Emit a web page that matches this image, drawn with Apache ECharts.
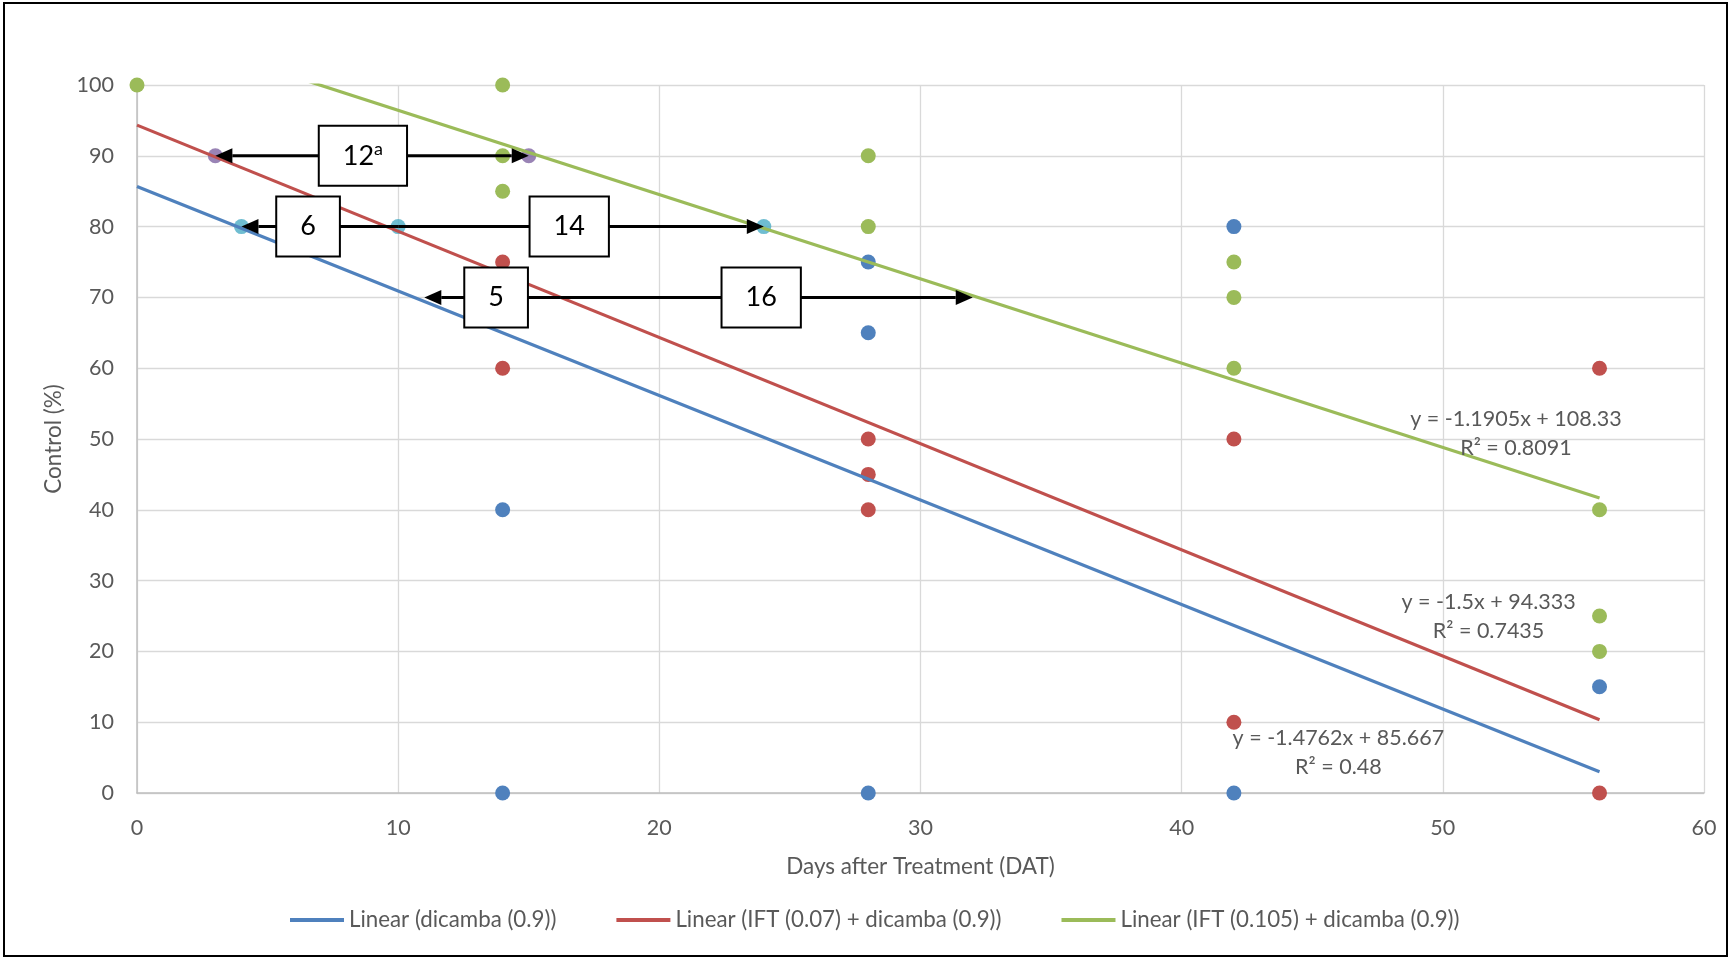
<!DOCTYPE html>
<html><head><meta charset="utf-8">
<script src="https://cdn.jsdelivr.net/npm/echarts@6/dist/echarts.min.js"></script>
<style>html,body{margin:0;padding:0;background:#fff}#c{width:1730px;height:958px}</style>
</head><body><div id="c"></div>
<script>
// ---------- data ----------
const seriesNames = ['dicamba (0.9)', 'IFT (0.07) + dicamba (0.9)', 'IFT (0.105) + dicamba (0.9)'];
const dicambaX = [14, 14, 28, 28, 28, 42, 42, 56];
const dicambaY = [40, 0, 75, 65, 0, 80, 0, 15];
const ift07X = [14, 14, 28, 28, 28, 42, 42, 56, 56];
const ift07Y = [75, 60, 50, 45, 40, 50, 10, 60, 0];
const ift105X = [0, 14, 14, 14, 28, 28, 42, 42, 42, 56, 56, 56];
const ift105Y = [100, 100, 90, 85, 90, 80, 75, 70, 60, 40, 25, 20];
const mark90X = [3, 15];
const mark90Y = [90, 90];
const mark80X = [4, 10, 24];
const mark80Y = [80, 80, 80];
const trendSlope = [-1.4762, -1.5, -1.1905];
const trendIntercept = [85.667, 94.333, 108.33];
const trendR2 = ['0.48', '0.7435', '0.8091'];
const trendXRange = [0, 56];
// arrows: each goes from a start day to the day its head points at, at one control level
const arrowLevel = [90, 90, 80, 80, 70, 70];
const arrowFrom = [9, 9, 10, 10, 16.2, 16.2];
const arrowTo = [3, 15, 4, 24, 11, 32];
// boxed labels (days between lines)
const boxDay = [8.65, 6.55, 16.55, 13.75, 23.9];
const boxLevel = [90, 80, 80, 70, 70];
const boxText = ['12', '6', '14', '5', '16'];
const boxSup = ['a', '', '', '', ''];
const xTicks = [0, 60, 10];
const yTicks = [0, 100, 10];

// ---------- styling ----------
const FONT = 'Lato';
const GREY = '#595959';
const colors = ['#4F81BD', '#C0504D', '#9BBB59'];
const purple = '#8064A2', cyan = '#4BACC6';

const chart = echarts.init(document.getElementById('c'), null, {renderer: 'canvas'});

const zip = (xs, ys) => xs.map((x, i) => [x, ys[i]]);
const pointSets = [zip(dicambaX, dicambaY), zip(ift07X, ift07Y), zip(ift105X, ift105Y)];

const scatterSeries = pointSets.map((d, i) => ({
  type: 'scatter', data: d, symbol: 'circle', symbolSize: 15,
  itemStyle: {color: colors[i], opacity: 1}, z: 2, silent: true
}));
scatterSeries.push({type: 'scatter', data: zip(mark90X, mark90Y), symbolSize: 15, itemStyle: {color: purple}, z: 2});
scatterSeries.push({type: 'scatter', data: zip(mark80X, mark80Y), symbolSize: 15, itemStyle: {color: cyan}, z: 2});

const trendNames = seriesNames.map(n => 'Linear (' + n + ')');
const trendSeries = trendSlope.map((m, i) => ({
  type: 'line', name: trendNames[i], color: colors[i],
  data: trendXRange.map(x => [x, m * x + trendIntercept[i]]),
  showSymbol: false, symbol: 'none', clip: true,
  lineStyle: {color: colors[i], width: 3.2}, z: 3
}));

// equation labels anchored in data space (day, control)
const eqAnchors = [[46.0, 5.65], [51.75, 24.9], [52.8, 50.7]];
const eqSeries = {
  type: 'custom', z: 6, silent: true,
  data: eqAnchors.map((a, i) => [a[0], a[1], i]),
  encode: {x: 0, y: 1},
  renderItem: (params, api) => {
    const i = api.value(2);
    const p = api.coord([api.value(0), api.value(1)]);
    const m = trendSlope[i], b = trendIntercept[i];
    const txt = 'y = ' + m + 'x + ' + b + '\nR² = ' + trendR2[i];
    return {type: 'text', x: p[0], y: p[1], style: {
      text: txt, align: 'center', verticalAlign: 'middle', fill: GREY,
      fontFamily: FONT, fontSize: 21.5, lineHeight: 29
    }};
  }
};

const arrowSeries = {
  type: 'custom', z: 4, silent: true,
  data: arrowLevel.map((y, i) => [arrowFrom[i], y, arrowTo[i]]),
  encode: {x: [0, 2], y: 1},
  renderItem: (params, api) => {
    const y = api.value(1);
    const a = api.coord([api.value(0), y]);
    const b = api.coord([api.value(2), y]);
    const dir = Math.sign(b[0] - a[0]);
    const L = 17, H = 7.5;
    const base = b[0] - dir * L;
    return {type: 'group', children: [
      {type: 'line', shape: {x1: a[0], y1: a[1], x2: base, y2: b[1]}, style: {stroke: '#000', lineWidth: 3}},
      {type: 'polygon', shape: {points: [[b[0], b[1]], [base, b[1] - H], [base, b[1] + H]]}, style: {fill: '#000'}}
    ]};
  }
};

const boxSeries = {
  type: 'custom', z: 5, silent: true,
  data: boxDay.map((x, i) => [x, boxLevel[i], i]),
  encode: {x: 0, y: 1},
  renderItem: (params, api) => {
    const i = api.value(2);
    const p = api.coord([api.value(0), api.value(1)]);
    const txt = boxSup[i] ? '{n|' + boxText[i] + '}{s|' + boxSup[i] + '}' : '{n|' + boxText[i] + '}';
    return {type: 'text', x: p[0], y: p[1], style: {
      text: txt, align: 'center', verticalAlign: 'middle',
      backgroundColor: '#fff', borderColor: '#000', borderWidth: 2,
      padding: [13, 23],
      rich: {
        n: {fontFamily: FONT, fontSize: 27, lineHeight: 32, fill: '#000'},
        s: {fontFamily: FONT, fontSize: 18, lineHeight: 18, verticalAlign: 'top', fill: '#000'}
      }
    }};
  }
};

const option = {
  animation: false,
  backgroundColor: '#fff',
  textStyle: {fontFamily: FONT},
  grid: {left: 137, right: 26, top: 85, bottom: 165, containLabel: false},
  xAxis: {
    type: 'value', min: xTicks[0], max: xTicks[1], interval: xTicks[2],
    name: 'Days after Treatment (DAT)', nameLocation: 'middle', nameGap: 62,
    nameTextStyle: {color: GREY, fontSize: 22.5, fontFamily: FONT},
    axisLine: {show: true, onZero: false, lineStyle: {color: '#BFBFBF', width: 1.5}},
    axisTick: {show: false},
    axisLabel: {color: GREY, fontSize: 21.5, fontFamily: FONT, margin: 24},
    splitLine: {show: true, lineStyle: {color: '#D9D9D9', width: 1.3}}
  },
  yAxis: {
    type: 'value', min: yTicks[0], max: yTicks[1], interval: yTicks[2],
    name: 'Control (%)', nameLocation: 'middle', nameGap: 70,
    nameTextStyle: {color: GREY, fontSize: 22.5, fontFamily: FONT},
    axisLine: {show: true, onZero: false, lineStyle: {color: '#BFBFBF', width: 1.5}},
    axisTick: {show: false},
    axisLabel: {color: GREY, fontSize: 21.5, fontFamily: FONT, margin: 23},
    splitLine: {show: true, lineStyle: {color: '#D9D9D9', width: 1.3}}
  },
  legend: {
    data: trendNames, left: 285, top: 904, itemGap: 60,
    itemWidth: 54, itemHeight: 4, icon: 'rect',
    textStyle: {color: GREY, fontSize: 22.3, fontFamily: FONT}
  },
  graphic: [{
    type: 'rect', shape: {x: 4, y: 3, width: 1723, height: 953},
    style: {fill: 'none', stroke: '#000', lineWidth: 2}, z: 100, silent: true
  }],
  series: [...scatterSeries, ...trendSeries, arrowSeries, boxSeries, eqSeries]
};
chart.setOption(option);
</script></body></html>
